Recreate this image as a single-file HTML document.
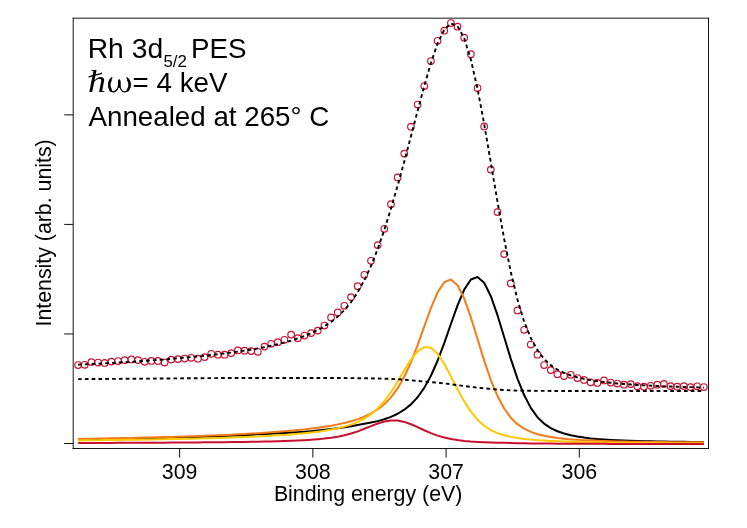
<!DOCTYPE html>
<html><head><meta charset="utf-8"><title>Rh 3d5/2 PES</title>
<style>
html,body{margin:0;padding:0;background:#fff;}
body{width:747px;height:528px;overflow:hidden;}
svg{display:block;}
text{font-family:"Liberation Sans",sans-serif;fill:#000;}
.ax{font-size:21.33px;}
.lg{font-size:27.75px;}
.sym{font-family:"Liberation Serif",serif;}
</style></head><body>
<svg style="will-change:transform" width="747" height="528" viewBox="0 0 747 528">
<rect x="0" y="0" width="747" height="528" fill="#ffffff"/>
<path d="M78.10,439.52 L84.76,439.42 L91.41,439.32 L98.07,439.21 L104.73,439.10 L111.38,438.98 L118.04,438.86 L124.70,438.73 L131.36,438.60 L138.01,438.46 L144.67,438.32 L151.33,438.18 L157.98,438.02 L164.64,437.87 L171.30,437.70 L177.95,437.54 L184.61,437.36 L191.27,437.17 L197.93,436.98 L204.58,436.77 L211.24,436.55 L217.90,436.32 L224.55,436.07 L231.21,435.80 L237.87,435.49 L244.53,435.13 L251.18,434.75 L257.84,434.36 L264.50,433.99 L271.15,433.66 L277.81,433.32 L284.47,432.95 L291.12,432.56 L297.78,432.13 L304.44,431.66 L311.10,431.13 L317.75,430.51 L324.41,429.80 L331.07,429.05 L337.72,428.23 L344.38,427.31 L351.04,426.27 L357.69,425.09 L364.35,423.80 L371.01,422.51 L377.66,421.14 L384.32,419.28 L390.98,416.89 L397.64,413.76 L404.29,409.70 L410.95,404.36 L417.61,397.26 L424.26,387.88 L430.92,375.77 L437.58,360.74 L444.24,343.12 L450.89,324.01 L457.55,305.35 L464.21,289.65 L470.86,279.52 L477.52,276.98 L484.18,282.77 L490.83,296.19 L497.49,315.18 L504.15,336.98 L510.80,358.84 L517.46,378.61 L524.12,395.08 L530.78,407.88 L537.43,417.16 L544.09,423.64 L550.75,428.16 L557.40,431.28 L564.06,433.53 L570.72,435.24 L577.38,436.55 L584.03,437.56 L590.69,438.39 L597.35,439.05 L604.00,439.52 L610.66,439.91 L617.32,440.23 L623.97,440.51 L630.63,440.75 L637.29,440.95 L643.95,441.13 L650.60,441.28 L657.26,441.42 L663.92,441.54 L670.57,441.64 L677.23,441.74 L683.89,441.82 L690.54,441.88 L697.20,441.94 L703.86,441.99" fill="none" stroke="#000000" stroke-width="2.0" stroke-linejoin="round" stroke-linecap="butt"/>
<path d="M78.10,438.89 L84.76,438.79 L91.41,438.68 L98.07,438.56 L104.73,438.44 L111.38,438.31 L118.04,438.18 L124.70,438.05 L131.36,437.91 L138.01,437.76 L144.67,437.60 L151.33,437.44 L157.98,437.27 L164.64,437.09 L171.30,436.90 L177.95,436.70 L184.61,436.49 L191.27,436.27 L197.93,436.04 L204.58,435.80 L211.24,435.54 L217.90,435.27 L224.55,434.98 L231.21,434.68 L237.87,434.35 L244.53,434.00 L251.18,433.62 L257.84,433.22 L264.50,432.79 L271.15,432.32 L277.81,431.82 L284.47,431.28 L291.12,430.70 L297.78,430.06 L304.44,429.37 L311.10,428.60 L317.75,427.73 L324.41,426.76 L331.07,425.66 L337.72,424.39 L344.38,422.92 L351.04,421.19 L357.69,419.13 L364.35,416.61 L371.01,413.46 L377.66,409.46 L384.32,404.25 L390.98,397.40 L397.64,388.39 L404.29,376.77 L410.95,362.28 L417.61,345.19 L424.26,326.49 L430.92,308.06 L437.58,292.40 L444.24,282.19 L450.89,279.51 L457.55,285.21 L464.21,298.55 L470.86,317.45 L477.52,339.08 L484.18,360.65 L490.83,380.05 L497.49,396.09 L504.15,408.52 L510.80,417.66 L517.46,424.17 L524.12,428.72 L530.78,431.91 L537.43,434.18 L544.09,435.84 L550.75,437.08 L557.40,438.04 L564.06,438.80 L570.72,439.40 L577.38,439.87 L584.03,440.26 L590.69,440.57 L597.35,440.84 L604.00,441.07 L610.66,441.27 L617.32,441.44 L623.97,441.59 L630.63,441.71 L637.29,441.82 L643.95,441.91 L650.60,441.99 L657.26,442.06 L663.92,442.12 L670.57,442.16 L677.23,442.20 L683.89,442.24 L690.54,442.27 L697.20,442.29 L703.86,442.30" fill="none" stroke="#F47B17" stroke-width="2.0" stroke-linejoin="round" stroke-linecap="butt"/>
<path d="M78.10,440.38 L84.76,440.31 L91.41,440.24 L98.07,440.16 L104.73,440.08 L111.38,440.00 L118.04,439.92 L124.70,439.83 L131.36,439.74 L138.01,439.64 L144.67,439.54 L151.33,439.43 L157.98,439.32 L164.64,439.20 L171.30,439.07 L177.95,438.94 L184.61,438.80 L191.27,438.65 L197.93,438.49 L204.58,438.32 L211.24,438.14 L217.90,437.95 L224.55,437.75 L231.21,437.52 L237.87,437.29 L244.53,437.03 L251.18,436.75 L257.84,436.44 L264.50,436.11 L271.15,435.75 L277.81,435.34 L284.47,434.90 L291.12,434.40 L297.78,433.85 L304.44,433.22 L311.10,432.50 L317.75,431.68 L324.41,430.72 L331.07,429.60 L337.72,428.25 L344.38,426.60 L351.04,424.56 L357.69,421.96 L364.35,418.60 L371.01,414.20 L377.66,408.46 L384.32,401.09 L390.98,391.99 L397.64,381.43 L404.29,370.19 L410.95,359.60 L417.61,351.35 L424.26,347.09 L430.92,347.85 L437.58,353.70 L444.24,363.70 L450.89,376.16 L457.55,389.23 L464.21,401.37 L470.86,411.63 L477.52,419.70 L484.18,425.72 L490.83,430.05 L497.49,433.12 L504.15,435.30 L510.80,436.88 L517.46,438.04 L524.12,438.93 L530.78,439.62 L537.43,440.17 L544.09,440.61 L550.75,440.98 L557.40,441.29 L564.06,441.55 L570.72,441.78 L577.38,441.97 L584.03,442.14 L590.69,442.28 L597.35,442.41 L604.00,442.53 L610.66,442.63 L617.32,442.72 L623.97,442.80 L630.63,442.88 L637.29,442.94 L643.95,443.00 L650.60,443.06 L657.26,443.11 L663.92,443.16 L670.57,443.20 L677.23,443.24 L683.89,443.27 L690.54,443.31 L697.20,443.34 L703.86,443.37" fill="none" stroke="#FFC800" stroke-width="2.0" stroke-linejoin="round" stroke-linecap="butt"/>
<path d="M78.10,442.98 L84.76,442.97 L91.41,442.95 L98.07,442.93 L104.73,442.91 L111.38,442.88 L118.04,442.86 L124.70,442.83 L131.36,442.80 L138.01,442.78 L144.67,442.74 L151.33,442.71 L157.98,442.68 L164.64,442.64 L171.30,442.60 L177.95,442.56 L184.61,442.51 L191.27,442.47 L197.93,442.41 L204.58,442.36 L211.24,442.30 L217.90,442.23 L224.55,442.16 L231.21,442.08 L237.87,441.99 L244.53,441.90 L251.18,441.79 L257.84,441.67 L264.50,441.54 L271.15,441.38 L277.81,441.21 L284.47,441.01 L291.12,440.77 L297.78,440.50 L304.44,440.16 L311.10,439.76 L317.75,439.25 L324.41,438.61 L331.07,437.79 L337.72,436.71 L344.38,435.31 L351.04,433.53 L357.69,431.33 L364.35,428.78 L371.01,426.07 L377.66,423.51 L384.32,421.50 L390.98,420.44 L397.64,420.56 L404.29,421.90 L410.95,424.23 L417.61,427.15 L424.26,430.24 L430.92,433.12 L437.58,435.59 L444.24,437.55 L450.89,439.03 L457.55,440.11 L464.21,440.90 L470.86,441.47 L477.52,441.88 L484.18,442.20 L490.83,442.45 L497.49,442.67 L504.15,442.85 L510.80,443.01 L517.46,443.14 L524.12,443.27 L530.78,443.38 L537.43,443.47 L544.09,443.55 L550.75,443.62 L557.40,443.67 L564.06,443.71 L570.72,443.74 L577.38,443.77 L584.03,443.80 L590.69,443.82 L597.35,443.84 L604.00,443.86 L610.66,443.88 L617.32,443.89 L623.97,443.91 L630.63,443.92 L637.29,443.93 L643.95,443.94 L650.60,443.95 L657.26,443.96 L663.92,443.97 L670.57,443.98 L677.23,443.99 L683.89,443.99 L690.54,444.00 L697.20,444.01 L703.86,444.01" fill="none" stroke="#C8102E" stroke-width="2.0" stroke-linejoin="round" stroke-linecap="butt"/>
<g fill="none" stroke="#C8102E" stroke-width="1.15">
<circle cx="78.10" cy="365.00" r="3.3"/><circle cx="84.76" cy="364.80" r="3.3"/><circle cx="91.41" cy="362.10" r="3.3"/><circle cx="98.07" cy="362.50" r="3.3"/><circle cx="104.73" cy="362.90" r="3.3"/><circle cx="111.38" cy="361.60" r="3.3"/><circle cx="118.04" cy="361.00" r="3.3"/><circle cx="124.70" cy="360.10" r="3.3"/><circle cx="131.36" cy="359.40" r="3.3"/><circle cx="138.01" cy="360.10" r="3.3"/><circle cx="144.67" cy="361.80" r="3.3"/><circle cx="151.33" cy="360.90" r="3.3"/><circle cx="157.98" cy="360.90" r="3.3"/><circle cx="164.64" cy="362.50" r="3.3"/><circle cx="171.30" cy="359.60" r="3.3"/><circle cx="177.95" cy="359.10" r="3.3"/><circle cx="184.61" cy="358.50" r="3.3"/><circle cx="191.27" cy="357.80" r="3.3"/><circle cx="197.93" cy="358.70" r="3.3"/><circle cx="204.58" cy="357.10" r="3.3"/><circle cx="211.24" cy="353.80" r="3.3"/><circle cx="217.90" cy="354.70" r="3.3"/><circle cx="224.55" cy="354.70" r="3.3"/><circle cx="231.21" cy="353.10" r="3.3"/><circle cx="237.87" cy="350.40" r="3.3"/><circle cx="244.53" cy="350.70" r="3.3"/><circle cx="251.18" cy="351.10" r="3.3"/><circle cx="257.84" cy="351.80" r="3.3"/><circle cx="264.50" cy="346.60" r="3.3"/><circle cx="271.15" cy="343.80" r="3.3"/><circle cx="277.81" cy="342.20" r="3.3"/><circle cx="284.47" cy="339.80" r="3.3"/><circle cx="291.12" cy="334.60" r="3.3"/><circle cx="297.78" cy="338.20" r="3.3"/><circle cx="304.44" cy="335.50" r="3.3"/><circle cx="311.10" cy="333.10" r="3.3"/><circle cx="317.75" cy="330.60" r="3.3"/><circle cx="324.41" cy="325.50" r="3.3"/><circle cx="331.07" cy="317.40" r="3.3"/><circle cx="337.72" cy="312.40" r="3.3"/><circle cx="344.38" cy="305.80" r="3.3"/><circle cx="351.04" cy="297.10" r="3.3"/><circle cx="357.69" cy="286.20" r="3.3"/><circle cx="364.35" cy="274.80" r="3.3"/><circle cx="371.01" cy="260.80" r="3.3"/><circle cx="377.66" cy="245.10" r="3.3"/><circle cx="384.32" cy="228.80" r="3.3"/><circle cx="390.98" cy="204.20" r="3.3"/><circle cx="397.64" cy="177.40" r="3.3"/><circle cx="404.29" cy="153.60" r="3.3"/><circle cx="410.95" cy="126.70" r="3.3"/><circle cx="417.61" cy="104.60" r="3.3"/><circle cx="424.26" cy="86.10" r="3.3"/><circle cx="430.92" cy="61.00" r="3.3"/><circle cx="437.58" cy="40.80" r="3.3"/><circle cx="444.24" cy="30.70" r="3.3"/><circle cx="450.89" cy="23.00" r="3.3"/><circle cx="457.55" cy="26.70" r="3.3"/><circle cx="464.21" cy="37.70" r="3.3"/><circle cx="470.86" cy="54.20" r="3.3"/><circle cx="477.52" cy="88.10" r="3.3"/><circle cx="484.18" cy="126.40" r="3.3"/><circle cx="490.83" cy="169.60" r="3.3"/><circle cx="497.49" cy="212.10" r="3.3"/><circle cx="504.15" cy="254.10" r="3.3"/><circle cx="510.80" cy="283.40" r="3.3"/><circle cx="517.46" cy="310.40" r="3.3"/><circle cx="524.12" cy="329.80" r="3.3"/><circle cx="530.78" cy="344.50" r="3.3"/><circle cx="537.43" cy="354.70" r="3.3"/><circle cx="544.09" cy="365.00" r="3.3"/><circle cx="550.75" cy="370.10" r="3.3"/><circle cx="557.40" cy="374.20" r="3.3"/><circle cx="564.06" cy="376.00" r="3.3"/><circle cx="570.72" cy="374.80" r="3.3"/><circle cx="577.38" cy="378.00" r="3.3"/><circle cx="584.03" cy="379.90" r="3.3"/><circle cx="590.69" cy="382.30" r="3.3"/><circle cx="597.35" cy="382.90" r="3.3"/><circle cx="604.00" cy="380.40" r="3.3"/><circle cx="610.66" cy="382.50" r="3.3"/><circle cx="617.32" cy="383.50" r="3.3"/><circle cx="623.97" cy="384.70" r="3.3"/><circle cx="630.63" cy="384.10" r="3.3"/><circle cx="637.29" cy="386.20" r="3.3"/><circle cx="643.95" cy="386.70" r="3.3"/><circle cx="650.60" cy="385.80" r="3.3"/><circle cx="657.26" cy="384.70" r="3.3"/><circle cx="663.92" cy="383.90" r="3.3"/><circle cx="670.57" cy="386.10" r="3.3"/><circle cx="677.23" cy="386.70" r="3.3"/><circle cx="683.89" cy="386.10" r="3.3"/><circle cx="690.54" cy="387.10" r="3.3"/><circle cx="697.20" cy="386.30" r="3.3"/><circle cx="703.86" cy="387.00" r="3.3"/>
</g>
<path d="M78.10,379.15 L84.76,379.10 L91.41,379.04 L98.07,378.99 L104.73,378.94 L111.38,378.89 L118.04,378.84 L124.70,378.79 L131.36,378.74 L138.01,378.69 L144.67,378.64 L151.33,378.59 L157.98,378.54 L164.64,378.48 L171.30,378.43 L177.95,378.37 L184.61,378.31 L191.27,378.25 L197.93,378.20 L204.58,378.16 L211.24,378.12 L217.90,378.08 L224.55,378.06 L231.21,378.05 L237.87,378.04 L244.53,378.03 L251.18,378.03 L257.84,378.02 L264.50,378.01 L271.15,378.01 L277.81,378.01 L284.47,378.00 L291.12,378.00 L297.78,378.00 L304.44,378.00 L311.10,378.00 L317.75,378.01 L324.41,378.02 L331.07,378.03 L337.72,378.04 L344.38,378.07 L351.04,378.11 L357.69,378.18 L364.35,378.27 L371.01,378.37 L377.66,378.49 L384.32,378.67 L390.98,378.91 L397.64,379.24 L404.29,379.72 L410.95,380.29 L417.61,380.91 L424.26,381.53 L430.92,382.10 L437.58,382.67 L444.24,383.37 L450.89,384.24 L457.55,385.15 L464.21,386.01 L470.86,386.86 L477.52,387.61 L484.18,388.30 L490.83,388.98 L497.49,389.53 L504.15,389.97 L510.80,390.36 L517.46,390.61 L524.12,390.74 L530.78,390.81 L537.43,390.86 L544.09,390.90 L550.75,390.93 L557.40,390.95 L564.06,390.96 L570.72,390.97 L577.38,390.98 L584.03,390.98 L590.69,390.99 L597.35,390.99 L604.00,391.00 L610.66,391.00 L617.32,391.00 L623.97,391.00 L630.63,391.00 L637.29,391.00 L643.95,391.00 L650.60,391.00 L657.26,391.00 L663.92,391.00 L670.57,391.00 L677.23,391.00 L683.89,391.00 L690.54,391.00 L697.20,391.00 L703.86,391.00" fill="none" stroke="#000" stroke-width="1.9" stroke-dasharray="3.7 3.115" stroke-dashoffset="0.1" stroke-linejoin="round" stroke-linecap="butt"/>
<path d="M78.10,364.65 L84.76,364.33 L91.41,364.01 L98.07,363.67 L104.73,363.31 L111.38,362.95 L118.04,362.57 L124.70,362.18 L131.36,361.77 L138.01,361.35 L144.67,360.90 L151.33,360.44 L157.98,359.95 L164.64,359.44 L171.30,358.90 L177.95,358.33 L184.61,357.73 L191.27,357.10 L197.93,356.44 L204.58,355.74 L211.24,355.01 L217.90,354.24 L224.55,353.42 L231.21,352.56 L237.87,351.63 L244.53,350.64 L251.18,349.56 L257.84,348.38 L264.50,347.10 L271.15,345.70 L277.81,344.16 L284.47,342.45 L291.12,340.55 L297.78,338.42 L304.44,336.01 L311.10,333.26 L317.75,330.09 L324.41,326.37 L331.07,321.95 L337.72,316.62 L344.38,310.10 L351.04,302.10 L357.69,292.26 L364.35,280.27 L371.01,265.89 L377.66,249.05 L384.32,229.86 L390.98,208.58 L397.64,185.62 L404.29,161.41 L410.95,136.33 L417.61,110.94 L424.26,86.06 L430.92,62.95 L437.58,43.42 L444.24,29.61 L450.89,23.41 L457.55,26.13 L464.21,38.27 L470.86,59.59 L477.52,88.81 L484.18,124.00 L490.83,162.67 L497.49,201.87 L504.15,238.99 L510.80,272.01 L517.46,299.60 L524.12,321.46 L530.78,338.02 L537.43,350.17 L544.09,358.91 L550.75,365.15 L557.40,369.64 L564.06,372.93 L570.72,375.42 L577.38,377.35 L584.03,378.89 L590.69,380.14 L597.35,381.18 L604.00,382.06 L610.66,382.81 L617.32,383.45 L623.97,384.01 L630.63,384.50 L637.29,384.94 L643.95,385.33 L650.60,385.67 L657.26,385.98 L663.92,386.26 L670.57,386.52 L677.23,386.75 L683.89,386.96 L690.54,387.15 L697.20,387.33 L703.86,387.49" fill="none" stroke="#000" stroke-width="1.9" stroke-dasharray="3.7 3.115" stroke-dashoffset="0.1" stroke-linejoin="round" stroke-linecap="butt"/>
<g fill="none" stroke="#000" stroke-width="0.92" stroke-linecap="square">
<path d="M73.2,18.2 V448.5"/><path d="M708.5,18.2 V448.5"/><path d="M73.2,18.2 H708.5"/><path d="M73.2,448.5 H708.5"/>
</g><g fill="none" stroke="#000" stroke-width="0.95" stroke-linecap="butt">
<path d="M179.65,448.5 V457.60"/><path d="M312.87,448.5 V457.60"/><path d="M446.08,448.5 V457.60"/><path d="M579.3,448.5 V457.60"/><path d="M73.2,114.85 H64.20"/><path d="M73.2,224.4 H64.20"/><path d="M73.2,333.95 H64.20"/><path d="M73.2,443.5 H64.20"/>
</g>
<text class="ax" transform="translate(179.65,479.3) scale(1.0,1.04)" text-anchor="middle">309</text>
<text class="ax" transform="translate(312.87,479.3) scale(1.0,1.04)" text-anchor="middle">308</text>
<text class="ax" transform="translate(446.08,479.3) scale(1.0,1.04)" text-anchor="middle">307</text>
<text class="ax" transform="translate(579.3,479.3) scale(1.0,1.04)" text-anchor="middle">306</text>
<text class="ax" transform="translate(368.1,500.9) scale(1.0,1.04)" text-anchor="middle">Binding energy (eV)</text>
<text class="ax" transform="translate(51.1,232.9) rotate(-90) scale(1,1.04)" text-anchor="middle">Intensity (arb. units)</text>
<text class="lg" transform="translate(87.65,57.7) scale(1.02,1.027)" text-anchor="start">Rh 3d</text>
<text class="lg" transform="translate(163.4,66.7) scale(1.05,1.02)" text-anchor="start" style="font-size:16px">5/2</text>
<text class="lg" transform="translate(191.0,57.7) scale(1.0,1.027)" text-anchor="start">PES</text>
<text class="lg sym" transform="translate(88.0,91.85) scale(1.15,1.0)" text-anchor="start" style="font-size:31.2px;font-style:italic">h</text>
<path d="M89.2,76.9 C93,75.6 97.5,74.6 101.6,73.3" fill="none" stroke="#000" stroke-width="1.4" stroke-linecap="round"/>
<g fill="none" stroke="#000" stroke-linecap="round" stroke-linejoin="round"><title>&#x3C9;</title><path stroke-width="1.35" d="M111.9,77.8 C109.6,79.5 108.9,82.5 108.9,85 C108.9,89 110.6,91.9 113.3,91.9 C116.5,91.9 118.6,88 118.8,84 C118.9,82 119.0,80.6 119.3,79.8 C119.6,80.6 119.6,82 119.7,84 C119.9,88 121.6,91.9 124.3,91.9 C127.8,91.9 130.0,89 130.0,85 C130.0,82.5 129.2,79.5 126.9,77.8"/><path stroke-width="2.5" d="M110.6,80.0 C109.6,81.5 109.3,83.3 109.3,85 C109.3,87.0 109.8,88.8 110.9,90.2"/><path stroke-width="2.5" d="M128.2,80.0 C129.3,81.5 129.6,83.3 129.6,85 C129.6,87.0 129.0,88.8 127.8,90.2"/><path stroke-width="2.6" d="M119.3,81.4 C119.3,83 119.3,85 119.1,86.6"/></g>
<text class="lg" transform="translate(132.6,91.85) scale(1.0,1.027)" text-anchor="start">= 4 keV</text>
<text class="lg" transform="translate(88.5,125.9) scale(1.0,1.027)" text-anchor="start">Annealed at 265&#176; C</text>
</svg>
</body></html>
